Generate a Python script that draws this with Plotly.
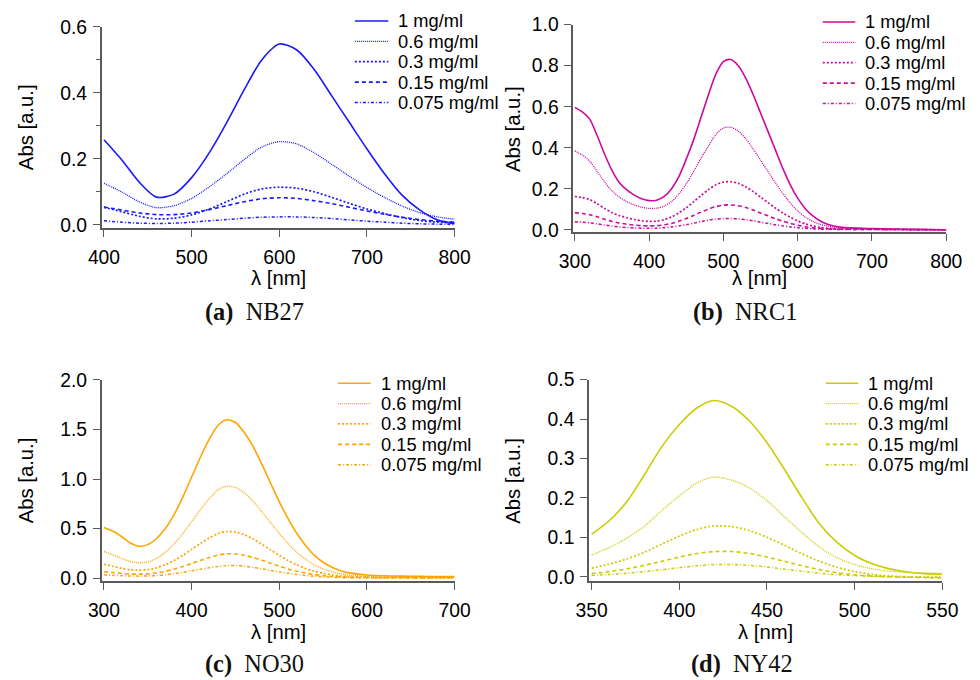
import plotly.graph_objects as go

# ---------------------------------------------------------------------------
# Absorbance spectra of four dyes at five concentrations
# ---------------------------------------------------------------------------
concentrations = ["1 mg/ml", "0.6 mg/ml", "0.3 mg/ml", "0.15 mg/ml", "0.075 mg/ml"]

# (a) NB27
wl_nb27 = [400, 420, 440, 460, 480, 500, 520, 540, 560, 580, 600,
           620, 640, 660, 680, 700, 720, 740, 760, 780, 800]
nb27_1 = [0.258, 0.198, 0.130, 0.084, 0.093, 0.143, 0.218, 0.310, 0.410, 0.500, 0.548,
          0.530, 0.470, 0.390, 0.310, 0.230, 0.155, 0.090, 0.045, 0.015, 0.003]
nb27_06 = [0.126, 0.100, 0.070, 0.052, 0.058, 0.080, 0.115, 0.155, 0.198, 0.236, 0.252,
           0.245, 0.218, 0.183, 0.147, 0.113, 0.083, 0.057, 0.037, 0.024, 0.017]
nb27_03 = [0.053, 0.040, 0.026, 0.018, 0.020, 0.030, 0.048, 0.070, 0.093, 0.109, 0.114,
           0.111, 0.100, 0.083, 0.065, 0.048, 0.034, 0.022, 0.013, 0.008, 0.006]
nb27_015 = [0.054, 0.045, 0.036, 0.031, 0.031, 0.036, 0.046, 0.058, 0.070, 0.079, 0.082,
            0.080, 0.073, 0.064, 0.053, 0.042, 0.032, 0.023, 0.016, 0.011, 0.008]
nb27_0075 = [0.012, 0.008, 0.005, 0.004, 0.005, 0.008, 0.012, 0.016, 0.020, 0.023, 0.024,
             0.024, 0.022, 0.019, 0.015, 0.011, 0.008, 0.005, 0.003, 0.002, 0.001]

# (b) NRC1
wl_nrc1 = [300, 310, 320, 330, 340, 350, 360, 370, 380, 390, 400, 410, 420, 430, 440,
           450, 460, 470, 480, 490, 500, 510, 520, 530, 540, 550, 560, 570, 580, 590,
           600, 610, 620, 630, 640, 650, 660, 680, 700, 750, 800]
nrc1_1 = [0.597, 0.575, 0.540, 0.460, 0.370, 0.290, 0.230, 0.195, 0.170, 0.152, 0.143,
          0.145, 0.162, 0.200, 0.260, 0.345, 0.440, 0.550, 0.660, 0.760, 0.820, 0.830,
          0.800, 0.740, 0.660, 0.570, 0.480, 0.390, 0.300, 0.220, 0.155, 0.105, 0.070,
          0.045, 0.028, 0.018, 0.013, 0.009, 0.007, 0.003, 0.001]
nrc1_06 = [0.385, 0.365, 0.335, 0.285, 0.235, 0.190, 0.160, 0.138, 0.122, 0.111, 0.105,
           0.106, 0.116, 0.138, 0.175, 0.225, 0.285, 0.350, 0.410, 0.465, 0.497, 0.500,
           0.482, 0.445, 0.395, 0.340, 0.285, 0.230, 0.178, 0.132, 0.093, 0.063, 0.042,
           0.028, 0.019, 0.013, 0.010, 0.007, 0.005, 0.003, 0.001]
nrc1_03 = [0.163, 0.158, 0.148, 0.128, 0.105, 0.085, 0.070, 0.060, 0.051, 0.045, 0.042,
           0.043, 0.050, 0.063, 0.083, 0.108, 0.138, 0.168, 0.197, 0.220, 0.233, 0.235,
           0.227, 0.210, 0.187, 0.160, 0.133, 0.107, 0.083, 0.062, 0.044, 0.030, 0.020,
           0.013, 0.009, 0.007, 0.006, 0.005, 0.004, 0.002, 0.001]
nrc1_015 = [0.084, 0.080, 0.074, 0.064, 0.052, 0.042, 0.034, 0.028, 0.024, 0.021, 0.020,
            0.021, 0.025, 0.032, 0.042, 0.056, 0.071, 0.087, 0.102, 0.114, 0.121, 0.122,
            0.118, 0.109, 0.097, 0.083, 0.069, 0.055, 0.043, 0.032, 0.023, 0.016, 0.011,
            0.008, 0.006, 0.005, 0.004, 0.003, 0.003, 0.002, 0.001]
nrc1_0075 = [0.040, 0.038, 0.035, 0.030, 0.024, 0.019, 0.015, 0.012, 0.010, 0.009, 0.008,
             0.009, 0.011, 0.015, 0.020, 0.026, 0.033, 0.041, 0.048, 0.053, 0.056, 0.056,
             0.054, 0.050, 0.045, 0.038, 0.032, 0.025, 0.020, 0.015, 0.011, 0.008, 0.006,
             0.004, 0.003, 0.003, 0.002, 0.002, 0.002, 0.001, 0.001]

# (c) NO30
wl_no30 = [300, 310, 320, 330, 340, 350, 360, 370, 380, 390, 400, 410, 420, 430, 440,
           450, 460, 470, 480, 490, 500, 510, 520, 530, 540, 550, 560, 570, 580, 590,
           600, 620, 640, 660, 680, 700]
no30_1 = [0.512, 0.475, 0.420, 0.355, 0.322, 0.338, 0.400, 0.500, 0.640, 0.820, 1.020,
          1.220, 1.400, 1.540, 1.598, 1.570, 1.470, 1.330, 1.150, 0.960, 0.770, 0.600,
          0.450, 0.330, 0.230, 0.160, 0.110, 0.075, 0.053, 0.040, 0.032, 0.024, 0.020,
          0.018, 0.016, 0.015]
no30_06 = [0.270, 0.235, 0.200, 0.168, 0.155, 0.163, 0.200, 0.260, 0.345, 0.450, 0.570,
           0.690, 0.800, 0.890, 0.928, 0.915, 0.860, 0.775, 0.670, 0.560, 0.450, 0.350,
           0.260, 0.190, 0.135, 0.093, 0.064, 0.044, 0.031, 0.023, 0.018, 0.013, 0.011,
           0.010, 0.009, 0.009]
no30_03 = [0.140, 0.120, 0.100, 0.085, 0.080, 0.086, 0.104, 0.135, 0.178, 0.230, 0.290,
           0.350, 0.405, 0.450, 0.470, 0.465, 0.438, 0.395, 0.342, 0.285, 0.230, 0.178,
           0.133, 0.097, 0.069, 0.048, 0.033, 0.023, 0.016, 0.012, 0.009, 0.007, 0.006,
           0.005, 0.005, 0.005]
no30_015 = [0.065, 0.056, 0.048, 0.042, 0.040, 0.043, 0.052, 0.068, 0.090, 0.117, 0.147,
            0.178, 0.207, 0.232, 0.245, 0.243, 0.230, 0.208, 0.180, 0.150, 0.120, 0.093,
            0.070, 0.051, 0.036, 0.025, 0.017, 0.012, 0.008, 0.006, 0.005, 0.004, 0.004,
            0.003, 0.003, 0.003]
no30_0075 = [0.032, 0.028, 0.024, 0.021, 0.020, 0.022, 0.026, 0.034, 0.045, 0.059, 0.074,
             0.090, 0.105, 0.118, 0.126, 0.126, 0.120, 0.108, 0.094, 0.078, 0.063, 0.049,
             0.037, 0.027, 0.019, 0.013, 0.009, 0.006, 0.004, 0.003, 0.003, 0.002, 0.002,
             0.002, 0.002, 0.002]

# (d) NY42
wl_ny42 = [350, 360, 370, 380, 390, 400, 410, 420, 430, 440, 450,
           460, 470, 480, 490, 500, 510, 520, 530, 540, 550]
ny42_1 = [0.108, 0.142, 0.190, 0.258, 0.330, 0.386, 0.428, 0.447, 0.432, 0.395, 0.340,
          0.272, 0.200, 0.134, 0.087, 0.054, 0.033, 0.020, 0.012, 0.008, 0.006]
ny42_06 = [0.055, 0.074, 0.098, 0.128, 0.168, 0.205, 0.238, 0.253, 0.245, 0.225, 0.193,
           0.152, 0.112, 0.075, 0.048, 0.031, 0.020, 0.014, 0.011, 0.010, 0.009]
ny42_03 = [0.022, 0.032, 0.045, 0.062, 0.083, 0.103, 0.120, 0.129, 0.127, 0.117, 0.100,
           0.080, 0.058, 0.039, 0.024, 0.013, 0.006, 0.002, 0.000, -0.001, -0.002]
ny42_015 = [0.008, 0.013, 0.020, 0.029, 0.039, 0.050, 0.059, 0.064, 0.064, 0.059, 0.050,
            0.039, 0.028, 0.018, 0.010, 0.005, 0.002, 0.000, -0.001, -0.002, -0.003]
ny42_0075 = [0.003, 0.006, 0.009, 0.013, 0.018, 0.023, 0.028, 0.031, 0.031, 0.029, 0.025,
             0.019, 0.014, 0.009, 0.005, 0.003, 0.001, 0.000, -0.001, -0.001, -0.001]

# Axis ticks
xticks_nb27 = [400, 500, 600, 700, 800]
yticks_nb27 = [0.0, 0.2, 0.4, 0.6]
yminor_nb27 = [0.1, 0.3, 0.5]
xticks_nrc1 = [300, 400, 500, 600, 700, 800]
yticks_nrc1 = [0.0, 0.2, 0.4, 0.6, 0.8, 1.0]
xticks_no30 = [300, 400, 500, 600, 700]
yticks_no30 = [0.0, 0.5, 1.0, 1.5, 2.0]
xticks_ny42 = [350, 400, 450, 500, 550]
yticks_ny42 = [0.0, 0.1, 0.2, 0.3, 0.4, 0.5]

captions = ["(a)", "(b)", "(c)", "(d)"]
dye_names = ["NB27", "NRC1", "NO30", "NY42"]

# ---------------------------------------------------------------------------
# Layout positions below are given in page pixels.  The figure sits inside
# the html body's default 8 px margin and the page is shown scaled to fit,
# so page pixels are converted to figure-paper fractions here.
W, H = 980, 680
BODY_MARGIN = 8
SX, SY = 0.984, 0.979
FONT = "Liberation Sans, Arial, sans-serif"
AXIS_GREY = "#5a5a5a"


def px(x):
    return (x - BODY_MARGIN) / SX / W


def py(y):
    return 1 - (y - BODY_MARGIN) / SY / H


def fs(size):
    return round(size / SX, 1)


panels = [
    dict(wl=wl_nb27, series=[nb27_1, nb27_06, nb27_03, nb27_015, nb27_0075],
         color="#1a1aff", xticks=xticks_nb27, yticks=yticks_nb27, yminor=yminor_nb27,
         box=(97, 455.3, 25, 227), xr=[397.4, 800], yr=[-0.009, 0.6],
         legend=(354, 388, 396, 19.0), ytitle_x=21, caption_xy=(252, 312),
         xtitle_y=278),
    dict(wl=wl_nrc1, series=[nrc1_1, nrc1_06, nrc1_03, nrc1_015, nrc1_0075],
         color="#cc0a9e", xticks=xticks_nrc1, yticks=yticks_nrc1, yminor=None,
         box=(575.7, 954.3, 22.7, 231.7), xr=[297.9, 800], yr=[-0.012, 1.0],
         legend=(829, 862, 870, 20.0), ytitle_x=514, caption_xy=(750, 312),
         xtitle_y=278),
    dict(wl=wl_no30, series=[no30_1, no30_06, no30_03, no30_015, no30_0075],
         color="#ffa500", xticks=xticks_no30, yticks=yticks_no30, yminor=None,
         box=(97, 455.3, 380, 582.3), xr=[297.4, 700], yr=[-0.03, 2.0],
         legend=(337, 370, 378, 383.3), ytitle_x=20, caption_xy=(252, 666),
         xtitle_y=633),
    dict(wl=wl_ny42, series=[ny42_1, ny42_06, ny42_03, ny42_015, ny42_0075],
         color="#cccc00", xticks=xticks_ny42, yticks=yticks_ny42, yminor=None,
         box=(591.7, 950.3, 379.7, 582.3), xr=[348.5, 550], yr=[-0.011, 0.5],
         legend=(832, 865, 873, 383.3), ytitle_x=515, caption_xy=(747, 666),
         xtitle_y=633),
]

dashes = ["solid", "1px,1px", "2px,2px", "4px,3px", "3px,2px,1px,2px"]
widths = [1.6, 1.3, 1.7, 1.6, 1.5]
ROW = 20.5

fig = go.Figure()
annotations = []
shapes = []

for i, p in enumerate(panels, start=1):
    suffix = "" if i == 1 else str(i)
    for name, ys, dash, w in zip(concentrations, p["series"], dashes, widths):
        fig.add_trace(go.Scatter(
            x=p["wl"], y=ys, mode="lines", name=name, showlegend=False,
            line=dict(color=p["color"], width=w, dash=dash, shape="spline", smoothing=0.8),
            xaxis="x" + suffix, yaxis="y" + suffix,
        ))

    x0, x1, y0, y1 = p["box"]
    common = dict(showline=True, linecolor=AXIS_GREY, linewidth=1.6,
                  ticks="outside", ticklen=7, tickwidth=1.4, tickcolor=AXIS_GREY,
                  showgrid=False, zeroline=False,
                  tickfont=dict(family=FONT, size=fs(19), color="black"))
    xa = dict(common, domain=[px(x0), px(x1)], range=p["xr"], tickvals=p["xticks"],
              anchor="y" + suffix, ticklabelstandoff=4)
    ya = dict(common, domain=[py(y1), py(y0)], range=p["yr"], tickvals=p["yticks"],
              tickformat=".1f", anchor="x" + suffix, ticklabelstandoff=2)
    if p["yminor"] is not None:
        ya["minor"] = dict(tickvals=p["yminor"], ticks="outside", ticklen=4,
                           tickwidth=1.2, tickcolor=AXIS_GREY)
    fig.layout["xaxis" + suffix] = xa
    fig.layout["yaxis" + suffix] = ya

    # axis titles
    annotations.append(dict(text="λ [nm]", x=px((x0 + x1) / 2), y=py(p["xtitle_y"]),
                            xref="paper", yref="paper", showarrow=False,
                            xanchor="center", yanchor="middle",
                            font=dict(family=FONT, size=fs(20), color="black")))
    annotations.append(dict(text="Abs [a.u.]", x=px(p["ytitle_x"]), y=py((y0 + y1) / 2),
                            xref="paper", yref="paper", showarrow=False, textangle=-90,
                            xanchor="center", yanchor="middle",
                            font=dict(family=FONT, size=fs(20), color="black")))
    # sub-figure caption
    cx, cy = p["caption_xy"]
    annotations.append(dict(text="<b>" + captions[i - 1] + "</b>\u2002" + dye_names[i - 1],
                            x=px(cx), y=py(cy), xref="paper", yref="paper",
                            showarrow=False, xanchor="center", yanchor="middle",
                            font=dict(family="Liberation Serif, Times New Roman, serif",
                                      size=fs(24), color="#111111")))

    # line-style key
    lx0, lx1, tx, ly = p["legend"]
    for k, (name, dash, w) in enumerate(zip(concentrations, dashes, widths)):
        yy = ly + k * ROW
        shapes.append(dict(type="line", xref="paper", yref="paper",
                           x0=px(lx0), x1=px(lx1), y0=py(yy), y1=py(yy),
                           line=dict(color=p["color"], width=w, dash=dash)))
        annotations.append(dict(text=name, x=px(tx), y=py(yy), xref="paper", yref="paper",
                                showarrow=False, xanchor="left", yanchor="middle",
                                font=dict(family=FONT, size=fs(18), color="black")))

fig.update_layout(
    width=W, height=H,
    margin=dict(l=0, r=0, t=0, b=0),
    paper_bgcolor="white", plot_bgcolor="white",
    showlegend=False,
    annotations=annotations,
    shapes=shapes,
)

fig.write_html("out.html")
